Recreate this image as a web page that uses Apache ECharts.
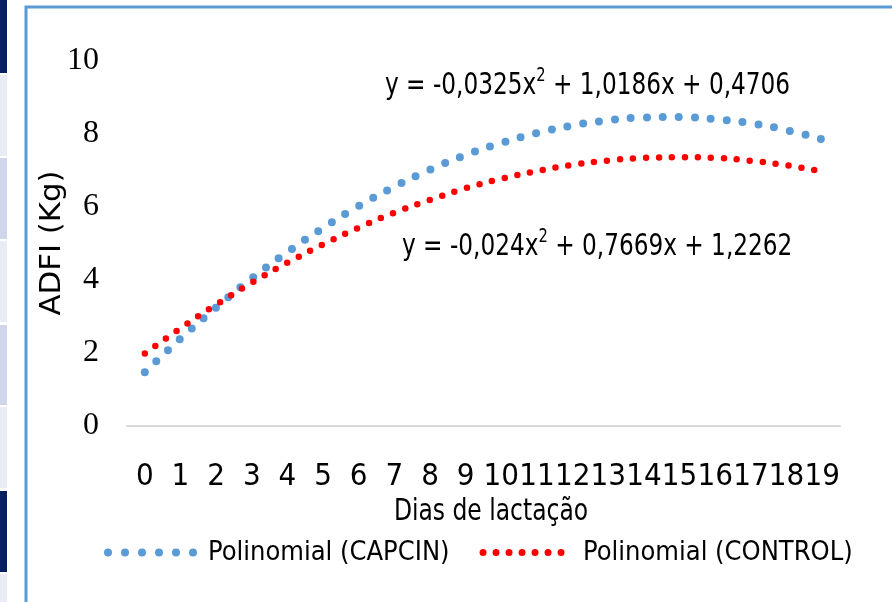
<!DOCTYPE html>
<html>
<head>
<meta charset="utf-8">
<script src="https://cdn.jsdelivr.net/npm/echarts@6/dist/echarts.min.js"></script>
<style>
html,body{margin:0;padding:0;background:#fff;}
#chart{width:892px;height:602px;}
</style>
</head>
<body>
<div id="chart"></div>
<script>
// Days of lactation (category labels)
const days = ['0','1','2','3','4','5','6','7','8','9','10','11','12','13','14','15','16','17','18','19'];
// Polynomial trend values (ADFI, kg)
const capcin = [1.46, 2.38, 3.23, 4.03, 4.75, 5.41, 6.01, 6.54, 7.01, 7.41, 7.74, 8.01, 8.22, 8.36, 8.44, 8.45, 8.39, 8.28, 8.09, 7.84];
const control = [1.97, 2.66, 3.31, 3.91, 4.46, 4.96, 5.42, 5.83, 6.18, 6.50, 6.76, 6.97, 7.14, 7.26, 7.33, 7.35, 7.33, 7.25, 7.13, 6.96];
const yTicks = [0, 2, 4, 6, 8, 10];
const seriesNames = ['Polinomial (CAPCIN)', 'Polinomial (CONTROL)'];
const eqCapcin = ['y = -0,0325x', '2', ' + 1,0186x + 0,4706'];
const eqControl = ['y = -0,024x', '2', ' + 0,7669x + 1,2262'];
const axisNames = ['Dias de lactação', 'ADFI (Kg)'];

const NARROW = "'Liberation Sans Narrow', 'DejaVu Sans Condensed', 'Liberation Sans', sans-serif";
const SERIF = "'Liberation Serif', 'DejaVu Serif', serif";
const BLUE = '#5b9bd5';
const RED = '#ff0000';

const chart = echarts.init(document.getElementById('chart'), null, {renderer: 'canvas'});

function eqText(eq) {
  return '{a|' + eq[0] + '}{s|' + eq[1] + '}{a|' + eq[2] + '}';
}
const eqRich = {
  a: {fontFamily: NARROW, fontSize: 30, color: '#000', verticalAlign: 'bottom', lineHeight: 34},
  s: {fontFamily: NARROW, fontSize: 19, color: '#000', verticalAlign: 'top', lineHeight: 34, padding: [0, 0, 14, 0]}
};

chart.setOption({
  animation: false,
  backgroundColor: '#ffffff',
  grid: {left: 127, right: 52, top: 60.5, bottom: 176.5, containLabel: false},
  graphic: [
    // slide strips at the left edge
    {type: 'rect', shape: {x: 0, y: 0, width: 7, height: 73}, style: {fill: '#002060'}},
    {type: 'rect', shape: {x: 0, y: 75, width: 7, height: 81}, style: {fill: '#e9ebf5'}},
    {type: 'rect', shape: {x: 0, y: 158, width: 7, height: 81}, style: {fill: '#cfd5ea'}},
    {type: 'rect', shape: {x: 0, y: 241, width: 7, height: 81}, style: {fill: '#e9ebf5'}},
    {type: 'rect', shape: {x: 0, y: 325, width: 7, height: 80}, style: {fill: '#cfd5ea'}},
    {type: 'rect', shape: {x: 0, y: 407, width: 7, height: 81}, style: {fill: '#e9ebf5'}},
    {type: 'rect', shape: {x: 0, y: 491, width: 7, height: 81}, style: {fill: '#002060'}},
    {type: 'rect', shape: {x: 0, y: 574, width: 7, height: 28}, style: {fill: '#e9ebf5'}},
    // chart frame
    {type: 'polyline', shape: {points: [[26, 602], [26, 7], [892, 7]]}, style: {stroke: BLUE, lineWidth: 3, fill: null}},
    // trendline equations
    {type: 'text', x: 385, y: 67, scaleX: 0.86, scaleY: 1,
     style: {text: eqText(eqCapcin), rich: eqRich, align: 'left', verticalAlign: 'top'}},
    {type: 'text', x: 402, y: 228, scaleX: 0.86, scaleY: 1,
     style: {text: eqText(eqControl), rich: eqRich, align: 'left', verticalAlign: 'top'}},
    // x axis name
    {type: 'text', x: 491, y: 512, scaleX: 0.84, scaleY: 1,
     style: {text: axisNames[0], fontFamily: NARROW, fontSize: 31, fill: '#000', align: 'center', verticalAlign: 'middle'}},
    // y axis name
    {type: 'text', x: 52, y: 243, rotation: Math.PI / 2, scaleX: 1.18, scaleY: 1,
     style: {text: axisNames[1], fontFamily: NARROW, fontSize: 29, fill: '#000', align: 'center', verticalAlign: 'middle'}}
  ],
  legend: {
    left: 99, top: 534,
    itemWidth: 88, itemHeight: 20, itemGap: 30,
    textStyle: {fontFamily: NARROW, fontSize: 27, color: '#000', padding: [0, 0, 0, 7]},
    data: [
      {name: seriesNames[0], itemStyle: {opacity: 0}, lineStyle: {color: BLUE, width: 8, type: [0, 17], cap: 'round'}},
      {name: seriesNames[1], itemStyle: {opacity: 0}, lineStyle: {color: RED, width: 7, type: [0, 13], cap: 'round'}}
    ]
  },
  xAxis: {
    type: 'category',
    data: days,
    boundaryGap: true,
    axisLine: {show: true, lineStyle: {color: '#d9d9d9', width: 2}},
    axisTick: {show: false},
    axisLabel: {interval: 0, margin: 36, fontFamily: NARROW, fontSize: 31, color: '#000'},
    splitLine: {show: false}
  },
  yAxis: {
    type: 'value',
    min: yTicks[0],
    max: yTicks[yTicks.length - 1],
    interval: 2,
    axisLine: {show: false},
    axisTick: {show: false},
    splitLine: {show: false},
    axisLabel: {margin: 28, fontFamily: SERIF, fontSize: 32, color: '#000'}
  },
  series: [
    {
      name: seriesNames[0], type: 'line', data: capcin, smooth: true,
      symbol: 'none', color: BLUE,
      lineStyle: {color: BLUE, width: 8, type: [0, 16], cap: 'round'}
    },
    {
      name: seriesNames[1], type: 'line', data: control, smooth: true,
      symbol: 'none', color: RED,
      lineStyle: {color: RED, width: 6.5, type: [0, 13], cap: 'round'}
    }
  ]
});
</script>
</body>
</html>
